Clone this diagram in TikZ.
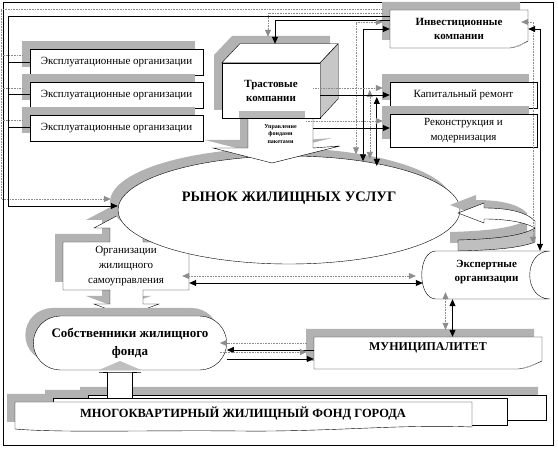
\documentclass[tikz,border=0pt]{standalone}
\usepackage{fontspec}
\setmainfont{Liberation Serif}
\usetikzlibrary{positioning,shapes.geometric,shapes.misc,shadows,arrows.meta}

\begin{document}
\begin{tikzpicture}[x=1pt,y=-1pt,
    >={Triangle[length=7pt,width=6pt]},
    every node/.style={font=\fontsize{11}{15}\selectfont},
    dshadow/.style={drop shadow={shadow xshift=-8pt,shadow yshift=8pt,fill=black!30,opacity=1}},
    box/.style={draw,fill=white,dshadow,minimum width=147pt,minimum height=26pt,inner sep=2pt,align=center},
    expl/.style={box,minimum width=173pt},
    hd/.style={font=\bfseries\fontsize{11}{14}\selectfont,align=center},
    link/.style={line width=0.8pt,
                 preaction={draw=black!45,densely dotted,line width=0.6pt,
                            transform canvas={shift={(-7pt,7pt)}}}}
]
\useasboundingbox (0,0) rectangle (558,449);
\draw[line width=1pt] (3,3) rectangle (553,446);

% exploitation organisations
\node[expl] (expl1) at (116.5,62) {Эксплуатационные организации};
\node[expl, below=6.5pt of expl1] (expl2) {Эксплуатационные организации};
\node[expl, below=6.5pt of expl2] (expl3) {Эксплуатационные организации};

% self-government block with its arrows
\fill[black!25] (143,233) rectangle (180,242);
\path[draw,fill=white,dshadow] (126,211) -- (158,228) -- (143,228) -- (143,242) -- (189,242)
    -- (189,290) -- (143,290) -- (143,304) -- (159,304) -- (126,316) -- (94,304) -- (110,304)
    -- (110,290) -- (63,290) -- (63,242) -- (110,242) -- (110,228) -- (94,228) -- cycle;
\node[minimum width=126pt,minimum height=48pt,align=center] (selfgov) at (126,266)
    {Организации\\жилищного\\самоуправления};

% market
\node[ellipse,draw,fill=white,dshadow,minimum width=342pt,minimum height=108pt] (market) at (289,210) {};
\node[font=\bfseries\fontsize{14.5}{17}\selectfont] (marketlabel) at ([yshift=12pt]market.center)
    {РЫНОК ЖИЛИЩНЫХ УСЛУГ};

% trust companies (cube) and fund management
\path[draw,fill=white,dshadow] (248,110) -- (313,110) -- (313,148) -- (340,146) -- (272,163)
    -- (213,148) -- (248,148) -- cycle;
\node[font=\bfseries\fontsize{6}{7.5}\selectfont,align=center,minimum width=65pt,minimum height=30pt]
    (mgmt) at (280.5,134) {Управление\\фондами\\пакетами};
\path[fill=white,dshadow] (222,118) -- (222,63) -- (240,44) -- (338,44) -- (338,99) -- (320,118) -- cycle;
\node[draw,fill=white,hd,minimum width=98pt,minimum height=55pt] (trust) at (271,90.5) {Трастовые\\компании};
\draw[fill=white] (trust.north west) -- ++(18,-19) -- ++(98,0) -- (trust.north east) -- cycle;
\draw[fill=black!22] (trust.north east) -- ++(18,-19) -- ++(0,55) -- (trust.south east) -- cycle;
\fill[black!28] ([xshift=17pt]trust.south west) rectangle ([xshift=-15pt,yshift=7pt]trust.south east);
\coordinate (cubetop) at ([yshift=19pt]trust.north);

% investment companies, repair, reconstruction
\path[draw,fill=white,dshadow] (390,10) -- (528,10) -- (528,41) .. controls (522,44) and (518,47) .. (510,48)
    -- (390,48) -- cycle;
\fill[black!30] (511,48) -- (527,42) -- (519,46.5) -- cycle;
\node[hd,minimum width=138pt,minimum height=38pt] (inv) at (459,29) {Инвестиционные\\компании};
\node[box] (cap) at (463.5,95) {Капитальный ремонт};
\node[box,minimum height=33pt,below=6pt of cap] (rec) {Реконструкция и\\модернизация};

% turning arrow
\draw[fill=black!25,dshadow] (535,228) -- (535,242) .. controls (520,248) and (495,250) .. (458,251)
    -- (458,240) .. controls (495,239) and (522,236) .. (535,228);
\draw[fill=white,dshadow] (535,221) .. controls (525,211) and (505,208) .. (484,208) -- (484,203)
    -- (458,213) -- (484,223) -- (484,219) .. controls (505,219) and (525,222) .. (535,228) -- cycle;

% expert organisations
\path[draw,fill=white] (550,251) -- (436,251) .. controls (417,251) and (417,299) .. (436,299)
    -- (550,299) .. controls (523,299) and (523,251) .. (550,251) -- cycle;
\node[hd,minimum width=127pt,minimum height=48pt,text depth=8pt] (expert) at (486.5,275)
    {Экспертные\\организации};

% municipality
\path[draw,fill=white,dshadow] (314,337) -- (542,337) -- (542,361) .. controls (535,364) and (528,368) .. (518,369)
    -- (314,369) -- cycle;
\fill[black!30] (520,369) -- (538,363) -- (530,367) -- cycle;
\node[font=\bfseries\fontsize{12}{14}\selectfont,text depth=12pt,minimum width=228pt,minimum height=32pt]
    (mun) at (428,353) {МУНИЦИПАЛИТЕТ};

% owners and housing stock
\fill[black!30] (80,387) rectangle (538,412) (45,390) rectangle (499,417) (7,394) rectangle (464,422);
\draw[fill=white] (88,395) rectangle (546,420);
\node[rounded rectangle,draw,fill=white,dshadow,minimum width=200pt,minimum height=54pt,
      font=\bfseries\fontsize{13}{18}\selectfont,align=center] (owners) at (130,343)
    {Собственники жилищного\\фонда};
\draw[fill=white] (107,398) -- (107,372) -- (99,372) -- (141,372) -- (132,372) -- (132,398);
\fill[black!25] (99,370) -- (120,361) -- (141,370) -- cycle;
\draw[fill=white] (53,398) rectangle (507,425);
\draw[fill=white] (15,402) -- (472,402) -- (472,427) .. controls (400,424) and (330,432) .. (240,431)
    .. controls (150,430) and (60,433) .. (15,429) -- cycle;
\node[font=\bfseries\fontsize{12.5}{15}\selectfont] (fund) at (243,414) {МНОГОКВАРТИРНЫЙ ЖИЛИЩНЫЙ ФОНД ГОРОДА};

% connectors
\coordinate (tl) at (8,16);
\coordinate (bl) at (8,206);
\coordinate (tt) at (275,20);
\coordinate (ivm) at (363,29);
\coordinate (rr) at (540,29);
\draw[link,->] (inv.west |- tl) -- (tl) -- (bl) -- (market.west |- bl);
\foreach \i in {1,2,3}
  \draw[link] (tl |- expl\i.west) -- (expl\i.west);
\draw[link,->] (inv.west |- tt) -- (tt) -- (tt |- cubetop);
\draw[link,<->] (inv.west) -- (ivm) -- (ivm |- market.33.35);
\draw[link,<->] ([xshift=-13pt,yshift=-2pt]cap.west) -- ([xshift=-13pt,yshift=-2pt]cap.west |- market.27.75);
\draw[link,->] (trust.east |- cap.west) -- (cap.west);
\draw[link,->] ([yshift=6pt]mgmt.east) -- ([yshift=6pt]mgmt.east -| rec.west);
\draw[link,<->] (inv.east) -- (rr) -- (rr |- expert.north);
\draw[link,<->] ([yshift=-17pt]selfgov.east) -- ([yshift=-17pt]selfgov.east -| expert.west);
\draw[link,<->] ([xshift=-34pt]expert.south) -- ([xshift=-34pt]expert.south |- mun.north);
\draw[link,->] ([yshift=3pt]mun.west) -- ([yshift=3pt]mun.west -| owners.east);
\draw[link,->] ([yshift=-6pt]mun.west -| owners.east) -- ([yshift=-6pt]mun.west);
\end{tikzpicture}
\end{document}
